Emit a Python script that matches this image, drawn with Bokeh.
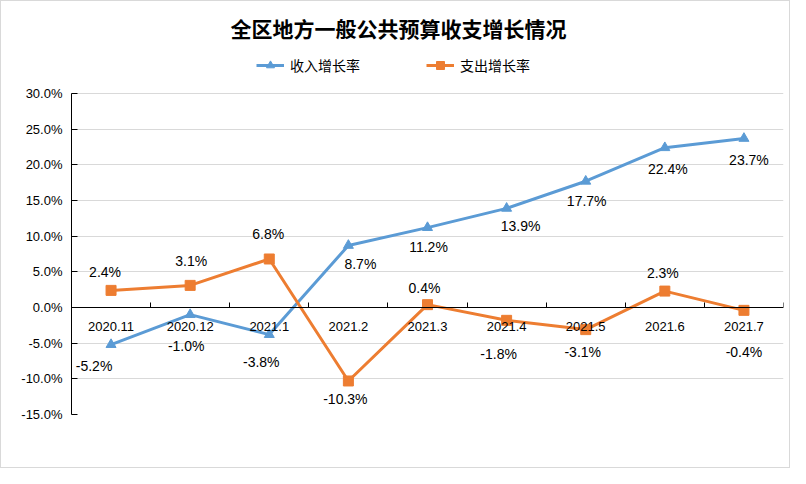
from bokeh.plotting import figure
from bokeh.models import (FixedTicker, PrintfTickFormatter, Legend, LegendItem,
                          Label, ColumnDataSource, Range1d)
from bokeh.core.properties import value
from bokeh.embed import file_html
from bokeh.resources import INLINE

# ---- data ----
categories = ["2020.11", "2020.12", "2021.1", "2021.2", "2021.3",
              "2021.4", "2021.5", "2021.6", "2021.7"]
income_growth = [-5.2, -1.0, -3.8, 8.7, 11.2, 13.9, 17.7, 22.4, 23.7]
expend_growth = [2.4, 3.1, 6.8, -10.3, 0.4, -1.8, -3.1, 2.3, -0.4]
y_ticks = [-15, -10, -5, 0, 5, 10, 15, 20, 25, 30]
y_min, y_max = -15, 30
title_text = "全区地方一般公共预算收支增长情况"
income_name = "收入增长率"
expend_name = "支出增长率"

# label placement (pixel offsets, styling only)
income_dx = [-17, -4, -8, 12, 1, 14, 1, 3, 5]
income_dy = [21, 31, 27, 19, 19, 18, 20, 21, 22]
expend_dx = [-6, 1, -1, -3, -3, -8, -3, -2, 0]
expend_dy = [-18, -24, -25, 18, -17, 34, 22, -18, 42]

BLUE = "#5B9BD5"
ORANGE = "#ED7D31"
NUM_FONT = "Liberation Sans"
CJK_FONT = "Noto Sans CJK SC"

# layout (pixels)
PLOT_H = 321            # height of the -15%..30% band
FRAME_TOP_PAD = 90      # room above the 30% line for title and legend
FRAME_H = PLOT_H + FRAME_TOP_PAD
y_top = y_max + (y_max - y_min) * FRAME_TOP_PAD / PLOT_H

xs = list(range(len(categories)))

p = figure(frame_width=712, frame_height=FRAME_H,
           min_border_left=70, min_border_right=6,
           min_border_top=2, min_border_bottom=53,
           x_range=Range1d(-0.5, len(categories) - 0.5),
           y_range=Range1d(y_min, y_top),
           output_backend="svg", toolbar_location=None)
p.outline_line_color = None
p.background_fill_color = "white"
p.border_fill_color = "white"
p.styles = {"border": "1px solid #D9D9D9"}

# grid
p.xgrid.visible = False
p.ygrid.ticker = FixedTicker(ticks=y_ticks)
p.ygrid.grid_line_color = "#D9D9D9"
p.ygrid.grid_line_width = 1

# y axis
yax = p.yaxis[0]
yax.ticker = FixedTicker(ticks=y_ticks)
yax.bounds = (y_min, y_max)
yax.formatter = PrintfTickFormatter(format="%.1f%%")
yax.axis_line_color = "black"
yax.major_tick_line_color = "black"
yax.major_tick_in = 6
yax.major_tick_out = 0
yax.minor_tick_line_color = None
yax.major_label_standoff = 9
yax.major_label_text_font = NUM_FONT
yax.major_label_text_font_size = "13px"
yax.major_label_text_color = "black"

# x axis (crosses at 0)
xax = p.xaxis[0]
xax.ticker = FixedTicker(ticks=xs, minor_ticks=[i - 0.5 for i in range(len(categories) + 1)])
xax.major_label_overrides = {i: c for i, c in zip(xs, categories)}
xax.fixed_location = 0
xax.axis_line_color = "black"
xax.major_tick_in = 0
xax.major_tick_out = 0
xax.major_tick_line_color = None
xax.minor_tick_line_color = "black"
xax.minor_tick_in = 5
xax.minor_tick_out = 0
xax.major_label_standoff = 14
xax.major_label_text_font = NUM_FONT
xax.major_label_text_font_size = "13px"
xax.major_label_text_color = "black"

src_inc = ColumnDataSource(dict(x=xs, y=income_growth,
                                t=[f"{v:.1f}%" for v in income_growth],
                                dx=income_dx, dy=income_dy))
src_exp = ColumnDataSource(dict(x=xs, y=expend_growth,
                                t=[f"{v:.1f}%" for v in expend_growth],
                                dx=expend_dx, dy=expend_dy))

l1 = p.line("x", "y", source=src_inc, line_color=BLUE, line_width=3, line_join="round")
s1 = p.scatter("x", "y", source=src_inc, marker="triangle", size=10,
               fill_color=BLUE, line_color=BLUE)
l2 = p.line("x", "y", source=src_exp, line_color=ORANGE, line_width=3, line_join="round")
s2 = p.scatter("x", "y", source=src_exp, marker="square", size=10,
               fill_color=ORANGE, line_color=ORANGE)

for src in (src_inc, src_exp):
    p.text("x", "y", text="t", source=src, x_offset="dx", y_offset="dy",
           text_align="center", text_baseline="middle",
           text_font=value(NUM_FONT), text_font_size="14px", text_color="black")

legend = Legend(items=[LegendItem(label=income_name, renderers=[l1, s1]),
                       LegendItem(label=expend_name, renderers=[l2, s2])],
                orientation="horizontal", location=(185, FRAME_H - 72),
                glyph_width=28, glyph_height=20, label_standoff=6, spacing=66,
                padding=0, margin=0, border_line_color=None,
                background_fill_alpha=0,
                label_text_font=CJK_FONT, label_text_font_size="14px",
                label_text_color="black", label_text_baseline="middle")
p.add_layout(legend)

title = Label(x=327, y=FRAME_H - 24.5, x_units="screen", y_units="screen", text=title_text,
              text_align="center", text_baseline="middle",
              text_font=CJK_FONT, text_font_size="21px", text_font_style="bold",
              text_color="black")
p.add_layout(title)

open("out.html", "w").write(file_html(p, INLINE))
